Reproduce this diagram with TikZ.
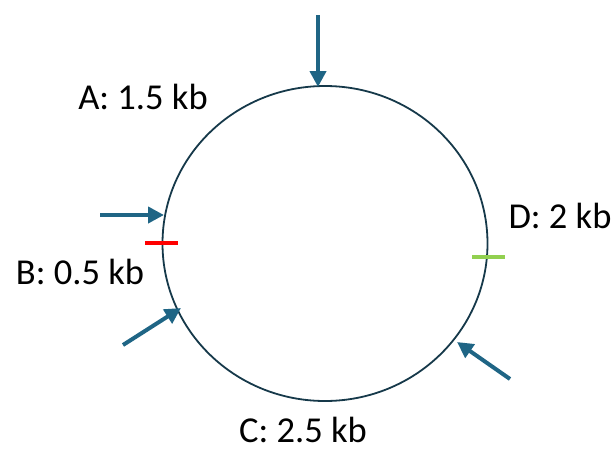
\documentclass[tikz,border=0pt]{standalone}
\usepackage{fontspec}
\setmainfont{Carlito}
\usetikzlibrary{arrows.meta,shapes.geometric}
\definecolor{ringcol}{HTML}{16394A}
\definecolor{arrcol}{HTML}{1F6585}
\definecolor{redtick}{HTML}{FF0000}
\definecolor{greentick}{HTML}{92D050}
\begin{document}
\begin{tikzpicture}[x=1pt,y=-1pt,
  ring/.style={draw=ringcol,line width=1.8pt},
  cutarrow/.style={draw=arrcol,line width=4pt,-{Triangle[length=16pt,width=16pt]}},
  tickmark/.style={line width=4pt},
  lbl/.style={font=\fontsize{36.5}{40}\selectfont,inner sep=0pt}]
\useasboundingbox (0,0) rectangle (615,450);
\node[ring,ellipse,minimum width=325pt,minimum height=315pt,inner sep=0pt] (ring) at (325,243.5) {};
% arrows
\coordinate (t1) at (318,15);  \coordinate (h1) at (318,87);
\coordinate (t2) at (100,215); \coordinate (h2) at (164,215);
\coordinate (t3) at (123,345); \coordinate (h3) at (181,308);
\coordinate (t4) at (510,379); \coordinate (h4) at (457,342);
\draw[cutarrow] (t1) -- (h1);
\draw[cutarrow] (t2) -- (h2);
\draw[cutarrow] (t3) -- (h3);
\draw[cutarrow] (t4) -- (h4);
% ticks
\coordinate (r1) at (145,243); \coordinate (r2) at (178,243);
\coordinate (g1) at (472,257); \coordinate (g2) at (505,257);
\draw[tickmark,redtick] (r1) -- (r2);
\draw[tickmark,greentick] (g1) -- (g2);
% labels
\node[lbl] (la) at (143,97) {A: 1.5 kb};
\node[lbl] (lb) at (80,272) {B: 0.5 kb};
\node[lbl] (ld) at (560,216) {D: 2 kb};
\node[lbl] (lc) at (303,430) {C: 2.5 kb};
\end{tikzpicture}
\end{document}
